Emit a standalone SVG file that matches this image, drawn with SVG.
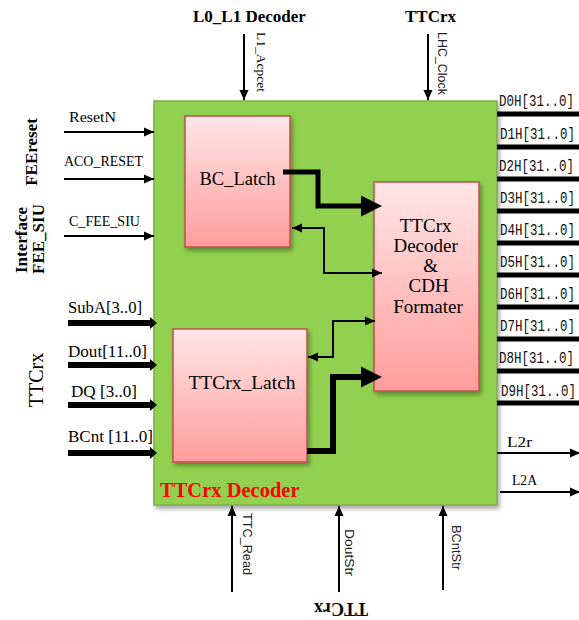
<svg xmlns="http://www.w3.org/2000/svg" width="579" height="620" viewBox="0 0 579 620">
<style>
.ser{font-family:"Liberation Serif","Times New Roman",serif;fill:#000}
.sans{font-family:"Liberation Sans",Arial,sans-serif;fill:#222}
.mono{font-family:"Liberation Mono","Courier New",monospace;fill:#111;font-size:12.5px}
.b{font-weight:bold}
.thin{stroke:#000;stroke-width:2;fill:none}
.thick{stroke:#000;stroke-width:6;fill:none}
.blk{stroke:#000;stroke-width:5;fill:none}
.box{fill:url(#pink);stroke:#C0504D;stroke-width:1.5;filter:url(#sh)}
</style>
<defs>
<linearGradient id="pink" x1="0" y1="0" x2="0" y2="1">
<stop offset="0" stop-color="#FFE6E6"/>
<stop offset="1" stop-color="#FF9C9C"/>
</linearGradient>
<filter id="sh" x="-10%" y="-10%" width="130%" height="130%">
<feDropShadow dx="2" dy="3" stdDeviation="2" flood-color="#000" flood-opacity="0.35"/>
</filter>
<marker id="ah" markerUnits="userSpaceOnUse" markerWidth="10" markerHeight="10" refX="10" refY="5" orient="auto-start-reverse">
<path d="M0,0.5 L10,5 L0,9.5 z" fill="#000"/>
</marker>
<marker id="big" markerUnits="userSpaceOnUse" markerWidth="22" markerHeight="22" refX="0" refY="11" orient="auto">
<path d="M0,0.5 L21,11 L0,21.5 z" fill="#000"/>
</marker>
<marker id="sm" markerUnits="userSpaceOnUse" markerWidth="8" markerHeight="14" refX="0" refY="7" orient="auto">
<path d="M0,1 L7,7 L0,13 z" fill="#000"/>
</marker>
</defs>
<rect width="579" height="620" fill="#fff"/>

<g id="main">
<rect x="154" y="101" width="343" height="404" fill="#92D050" stroke="#7DAF45" stroke-width="1.5" filter="url(#sh)"/>
<text class="ser b" x="160" y="497" font-size="20.5" style="fill:#FF0000">TTCrx Decoder</text>
</g>

<g id="bc_latch">
<rect class="box" x="185" y="116" width="105" height="131"/>
<text class="ser" x="237.5" y="185" font-size="18.5" text-anchor="middle">BC_Latch</text>
</g>

<g id="ttcrx_latch">
<rect class="box" x="173" y="329" width="134" height="133"/>
<text class="ser" x="242" y="389" font-size="19.5" text-anchor="middle">TTCrx_Latch</text>
</g>

<g id="decoder">
<rect class="box" x="374" y="182" width="105" height="209"/>
<text class="ser" font-size="19" text-anchor="middle">
<tspan x="428" y="232">TTCrx</tspan>
<tspan x="428" y="252">Decoder</tspan>
<tspan x="433" y="272">&amp;</tspan>
<tspan x="431" y="292">CDH</tspan>
<tspan x="428" y="313">Formater</tspan>
</text>
</g>

<g id="labels">
<text class="ser b" x="193" y="22" font-size="17">L0_L1 Decoder</text>
<text class="ser b" x="405" y="22" font-size="17">TTCrx</text>
<text class="ser b" transform="translate(37,152) rotate(-90)" font-size="17" text-anchor="middle">FEEreset</text>
<text class="ser b" transform="translate(27,240) rotate(-90)" font-size="17" text-anchor="middle">Interface</text>
<text class="ser b" transform="translate(44,239) rotate(-90)" font-size="17" text-anchor="middle">FEE_SIU</text>
<text class="ser" transform="translate(43,380) rotate(-90)" font-size="20" text-anchor="middle">TTCrx</text>
<text class="ser b" transform="translate(341,603) rotate(180)" font-size="18" text-anchor="middle">TTCrx</text>

<text class="ser" x="69" y="122" font-size="15" textLength="47" lengthAdjust="spacingAndGlyphs">ResetN</text>
<text class="ser" x="64" y="166" font-size="15" textLength="79" lengthAdjust="spacingAndGlyphs">ACO_RESET</text>
<text class="ser" x="69" y="226" font-size="15" textLength="71" lengthAdjust="spacingAndGlyphs">C_FEE_SIU</text>
<text class="ser" x="68" y="313" font-size="16" textLength="74" lengthAdjust="spacingAndGlyphs">SubA[3..0]</text>
<text class="ser" x="68" y="357" font-size="16" textLength="79" lengthAdjust="spacingAndGlyphs">Dout[11..0]</text>
<text class="ser" x="71" y="397" font-size="16" textLength="66" lengthAdjust="spacingAndGlyphs">DQ [3..0]</text>
<text class="ser" x="68" y="442" font-size="16" textLength="85" lengthAdjust="spacingAndGlyphs">BCnt [11..0]</text>

<text class="ser" transform="translate(257,32) rotate(90)" font-size="13.5" textLength="60" lengthAdjust="spacingAndGlyphs">L1_Acpcet</text>
<text class="sans" transform="translate(438,32) rotate(90)" font-size="12.5" textLength="63" lengthAdjust="spacingAndGlyphs">LHC_Clock</text>
<text class="sans" transform="translate(243,513) rotate(90)" font-size="12.7" textLength="62" lengthAdjust="spacingAndGlyphs">TTC_Read</text>
<text class="sans" transform="translate(345,529) rotate(90)" font-size="13" textLength="47" lengthAdjust="spacingAndGlyphs">DoutStr</text>
<text class="sans" transform="translate(452,525) rotate(90)" font-size="13" textLength="45" lengthAdjust="spacingAndGlyphs">BCntStr</text>

<text class="mono" transform="translate(499,106) scale(1,1.3)">D0H[31..0]</text>
<text class="mono" transform="translate(500,139) scale(1,1.3)">D1H[31..0]</text>
<text class="mono" transform="translate(499,171) scale(1,1.3)">D2H[31..0]</text>
<text class="mono" transform="translate(500,203) scale(1,1.3)">D3H[31..0]</text>
<text class="mono" transform="translate(500,235) scale(1,1.3)">D4H[31..0]</text>
<text class="mono" transform="translate(500,267) scale(1,1.3)">D5H[31..0]</text>
<text class="mono" transform="translate(500,299) scale(1,1.3)">D6H[31..0]</text>
<text class="mono" transform="translate(500,331) scale(1,1.3)">D7H[31..0]</text>
<text class="mono" transform="translate(499,363) scale(1,1.3)">D8H[31..0]</text>
<text class="mono" transform="translate(501,396) scale(1,1.3)">D9H[31..0]</text>
<text class="ser" x="507" y="447" font-size="15" textLength="25" lengthAdjust="spacingAndGlyphs">L2r</text>
<text class="ser" x="512" y="485" font-size="15" textLength="25" lengthAdjust="spacingAndGlyphs">L2A</text>
</g>

<g id="connectors">
<line class="thin" x1="244" y1="34" x2="244" y2="100" marker-end="url(#ah)"/>
<line class="thin" x1="428" y1="34" x2="428" y2="100" marker-end="url(#ah)"/>
<line class="thin" x1="64" y1="132" x2="154" y2="132" marker-end="url(#ah)"/>
<line class="thin" x1="64" y1="179" x2="154" y2="179" marker-end="url(#ah)"/>
<line class="thin" x1="64" y1="236" x2="154" y2="236" marker-end="url(#ah)"/>
<line class="thick" x1="68" y1="323" x2="150" y2="323" marker-end="url(#sm)"/>
<line class="thick" x1="68" y1="365" x2="150" y2="365" marker-end="url(#sm)"/>
<line class="thick" x1="68" y1="405" x2="150" y2="405" marker-end="url(#sm)"/>
<line class="thick" x1="68" y1="453" x2="150" y2="453" marker-end="url(#sm)"/>
<line class="thin" x1="232" y1="592" x2="232" y2="506" marker-end="url(#ah)"/>
<line class="thin" x1="339" y1="592" x2="339" y2="506" marker-end="url(#ah)"/>
<line class="thin" x1="443" y1="590" x2="443" y2="506" marker-end="url(#ah)"/>

<polyline class="blk" points="283,172 318,172 318,206 361,206" marker-end="url(#big)"/>
<polyline class="thick" points="307,451 333,451 333,377 361,377" marker-end="url(#big)"/>
<polyline class="thin" points="292,228 324,228 324,273 382,273" marker-start="url(#ah)" marker-end="url(#ah)"/>
<polyline class="thin" points="308,357 333,357 333,321 375,321" marker-start="url(#ah)" marker-end="url(#ah)"/>

<g class="blk">
<line x1="497" y1="114" x2="579" y2="114"/>
<line x1="497" y1="147" x2="579" y2="147"/>
<line x1="497" y1="179" x2="579" y2="179"/>
<line x1="497" y1="211" x2="579" y2="211"/>
<line x1="497" y1="243" x2="579" y2="243"/>
<line x1="497" y1="275" x2="579" y2="275"/>
<line x1="497" y1="307" x2="579" y2="307"/>
<line x1="497" y1="339" x2="579" y2="339"/>
<line x1="497" y1="371" x2="579" y2="371"/>
<line x1="497" y1="403" x2="579" y2="403"/>
</g>
<line class="thin" x1="497" y1="453" x2="580" y2="453" marker-end="url(#ah)"/>
<line class="thin" x1="500" y1="492" x2="580" y2="492" marker-end="url(#ah)"/>
</g>
</svg>
